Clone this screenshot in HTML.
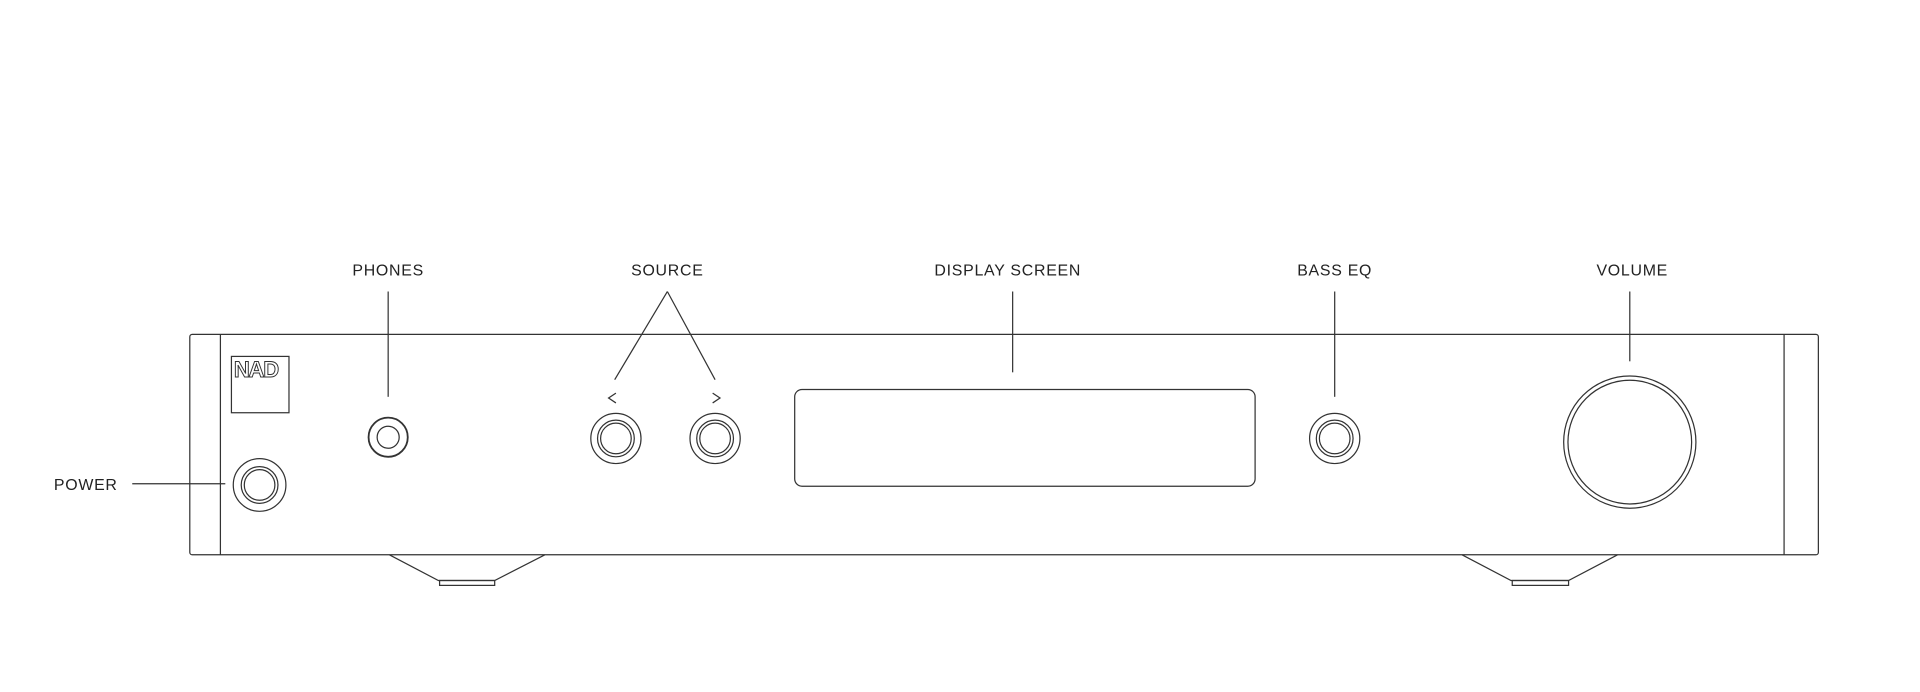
<!DOCTYPE html>
<html><head><meta charset="utf-8"><style>
html,body{margin:0;padding:0;background:#fff;width:1920px;height:692px;overflow:hidden}
svg{display:block}
text{font-family:"Liberation Sans",sans-serif;font-size:13px;fill:#222;letter-spacing:0.6px}
</style></head><body>
<svg width="1920" height="692" viewBox="0 0 1568 565" xmlns="http://www.w3.org/2000/svg">
<g fill="none" stroke="#333" stroke-width="1">
<rect x="155" y="273" width="1330" height="180" rx="2"/>
<line x1="180" y1="273" x2="180" y2="453"/>
<line x1="1457" y1="273" x2="1457" y2="453"/>
<rect x="189" y="291" width="47" height="46"/>
<line x1="108" y1="395" x2="184" y2="395"/>
<circle cx="212" cy="396" r="21.5"/>
<circle cx="212" cy="396" r="15"/>
<circle cx="212" cy="396" r="12.5"/>
<line x1="317" y1="238" x2="317" y2="324"/>
<circle cx="317" cy="357" r="16" stroke-width="1.5"/>
<circle cx="317" cy="357" r="9"/>
<line x1="545" y1="238" x2="502" y2="310"/>
<line x1="545" y1="238" x2="584" y2="310"/>
<polyline points="503,321 497,325 503,329"/>
<polyline points="582,321 588,325 582,329"/>
<circle cx="503" cy="358" r="20.5"/>
<circle cx="503" cy="358" r="15"/>
<circle cx="503" cy="358" r="12.5"/>
<circle cx="584" cy="358" r="20.5"/>
<circle cx="584" cy="358" r="15"/>
<circle cx="584" cy="358" r="12.5"/>
<line x1="827" y1="238" x2="827" y2="304"/>
<rect x="649" y="318" width="376" height="79" rx="6"/>
<line x1="1090" y1="238" x2="1090" y2="324"/>
<circle cx="1090" cy="358" r="20.5"/>
<circle cx="1090" cy="358" r="15"/>
<circle cx="1090" cy="358" r="12.5"/>
<line x1="1331" y1="238" x2="1331" y2="295"/>
<circle cx="1331" cy="361" r="54"/>
<circle cx="1331" cy="361" r="50.5"/>
<polyline points="318,453 358,474 404,474 445,453"/>
<rect x="359" y="474" width="45" height="4"/>
<polyline points="1194,453 1234,474 1281,474 1321,453"/>
<rect x="1235" y="474" width="46" height="4"/>
</g>
<text x="191" y="308" style="font-size:18px;font-weight:bold;fill:#fff;stroke:#333;stroke-width:0.8;letter-spacing:-1px">NAD</text>
<text x="44" y="400">POWER</text>
<text x="317" y="225" text-anchor="middle">PHONES</text>
<text x="545" y="225" text-anchor="middle">SOURCE</text>
<text x="823" y="225" text-anchor="middle">DISPLAY SCREEN</text>
<text x="1090" y="225" text-anchor="middle">BASS EQ</text>
<text x="1333" y="225" text-anchor="middle">VOLUME</text>
</svg>
</body></html>
